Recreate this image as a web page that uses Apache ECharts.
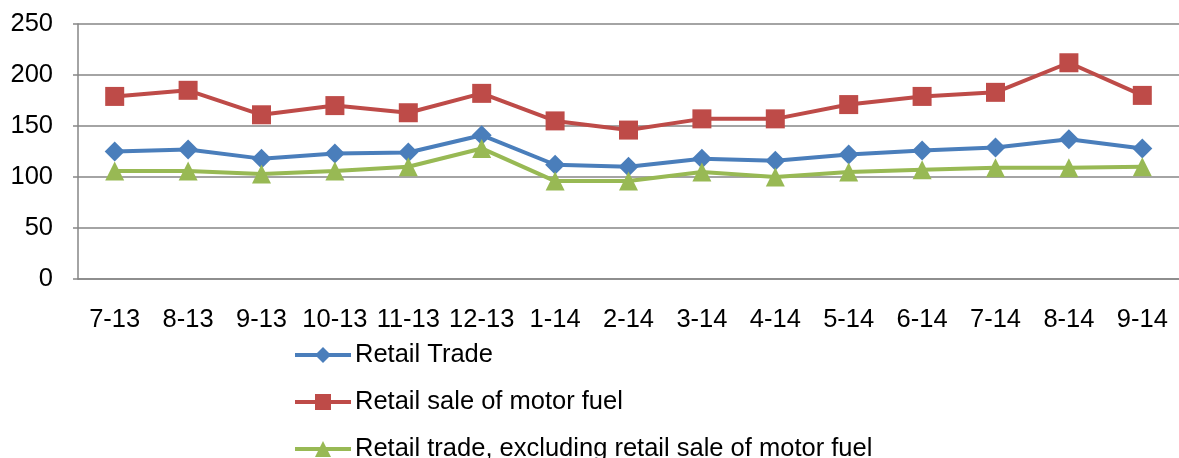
<!DOCTYPE html>
<html><head><meta charset="utf-8">
<script src="https://cdn.jsdelivr.net/npm/echarts@6/dist/echarts.min.js"></script>
<style>html,body{margin:0;padding:0;background:#fff}#c{width:1179px;height:458px}</style>
</head><body><div id="c"></div>
<script>
const categories = ['7-13','8-13','9-13','10-13','11-13','12-13','1-14','2-14','3-14','4-14','5-14','6-14','7-14','8-14','9-14'];
const retailTrade = [125, 127, 118, 123, 124, 141, 112, 110, 118, 116, 122, 126, 129, 137, 128];
const motorFuel = [179, 185, 161, 170, 163, 182, 155, 146, 157, 157, 171, 179, 183, 212, 180];
const excludingFuel = [106, 106, 103, 106, 110, 128, 96, 96, 105, 100, 105, 107, 109, 109, 110];
const yTicks = [0, 50, 100, 150, 200, 250];

const font = 'Liberation Sans, Arial, sans-serif';
const chart = echarts.init(document.getElementById('c'), null, {renderer: 'canvas'});
function mk(name, data, color, symbol, size) {
  return {
    name, type: 'line', data, symbol, symbolSize: size,
    lineStyle: {color, width: 4}, itemStyle: {color},
    animation: false
  };
}
chart.setOption({
  animation: false,
  grid: {left: 78, right: 0, top: 24, bottom: 179, containLabel: false},
  legend: {
    orient: 'vertical', left: 293, top: 342, padding: 0, height: 200, width: 880,
    itemWidth: 56, itemHeight: 20, itemGap: 21,
    lineStyle: {width: 4},
    textStyle: {fontFamily: font, fontSize: 25.5, lineHeight: 22, color: '#000', padding: [0, 0, 0, -1]},
    data: ['Retail Trade', 'Retail sale of motor fuel', 'Retail trade, excluding retail sale of motor fuel']
  },
  xAxis: {
    type: 'category', data: categories, boundaryGap: true,
    axisLine: {lineStyle: {color: '#868686', width: 1.5}},
    axisTick: {show: false},
    axisLabel: {fontFamily: font, fontSize: 25.5, color: '#000', margin: 28, interval: 0}
  },
  yAxis: {
    type: 'value', min: yTicks[0], max: yTicks[yTicks.length - 1], interval: 50,
    axisLine: {show: true, lineStyle: {color: '#868686', width: 1.5}},
    axisTick: {show: true, length: 5, lineStyle: {color: '#868686', width: 1.5}},
    splitLine: {lineStyle: {color: '#868686', width: 1.5}},
    axisLabel: {fontFamily: font, fontSize: 25.5, color: '#000', margin: 25}
  },
  series: [
    mk('Retail Trade', retailTrade, '#4A7EBB', 'diamond', 20),
    mk('Retail sale of motor fuel', motorFuel, '#BE4B48', 'rect', 19),
    mk('Retail trade, excluding retail sale of motor fuel', excludingFuel, '#98B954', 'triangle', 19)
  ]
});
</script></body></html>
